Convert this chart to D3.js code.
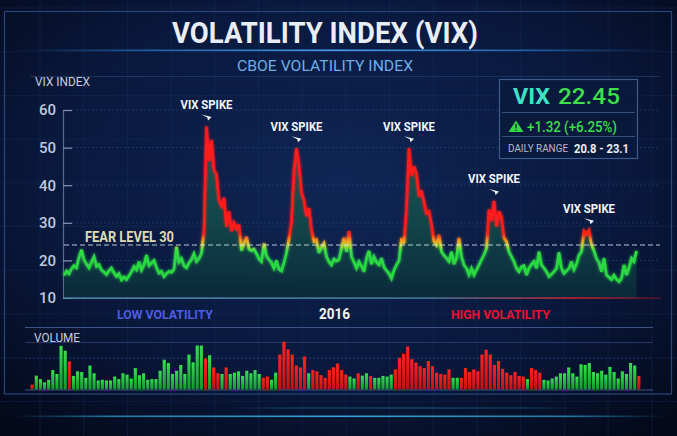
<!DOCTYPE html>
<html>
<head>
<meta charset="utf-8">
<script src="https://cdn.jsdelivr.net/npm/d3@7"></script>
<style>
  html, body { margin: 0; padding: 0; background: #081430; }
  svg { display: block; }
  text { font-family: Roboto, "Open Sans", "DejaVu Sans", sans-serif; }
</style>
</head>
<body>
<svg id="chart" width="677" height="436"></svg>
<script>
// VIX daily closes (left to right)
const vix = [
  16.0, 17.2, 16.4, 17.8, 18.6, 18.0, 20.8, 22.8, 20.2, 19.0, 18.0, 19.6,
  21.0, 18.4, 18.9, 17.4, 16.9, 16.2, 17.3, 18.0, 16.7, 15.7, 16.5, 14.8,
  15.6, 14.9, 15.9, 17.0, 18.4, 17.5, 19.7, 17.4, 18.8, 21.4, 18.6, 19.3,
  20.0, 18.1, 16.6, 17.1, 15.7, 16.5, 17.1, 16.8, 17.6, 23.6, 19.6, 20.5,
  18.6, 18.0, 19.3, 20.3, 21.8, 19.7, 20.5, 21.9, 28.0, 55.6, 46.5, 52.0,
  44.0, 42.8, 36.0, 34.5, 36.6, 29.0, 33.0, 27.8, 30.0, 28.4, 29.5, 22.6,
  24.6, 26.3, 23.0, 22.6, 23.0, 21.8, 20.4, 19.7, 24.5, 21.2, 20.2, 19.4,
  17.9, 20.0, 17.6, 17.2, 19.4, 22.1, 25.8, 30.3, 44.0, 49.8, 45.4, 38.0,
  36.0, 31.8, 33.9, 28.0, 25.0, 25.5, 22.0, 23.5, 24.6, 21.0, 19.6, 18.8,
  20.4, 19.8, 20.2, 23.2, 26.0, 22.3, 27.8, 21.0, 19.5, 17.9, 19.7, 18.5,
  17.0, 20.6, 22.5, 19.0, 21.0, 19.5, 18.8, 20.6, 18.2, 17.3, 16.5, 15.2,
  17.4, 18.8, 19.9, 25.9, 24.5, 33.9, 49.8, 42.5, 45.0, 43.0, 37.0, 38.5,
  35.5, 32.5, 33.0, 29.5, 25.0, 24.0, 26.8, 22.3, 21.3, 20.6, 19.7, 22.3,
  19.0, 20.5, 26.0, 21.0, 18.8, 17.9, 16.1, 17.9, 16.1, 17.5, 18.8, 20.2,
  21.5, 23.2, 33.5, 30.5, 35.8, 29.0, 33.0, 31.5, 26.0, 25.0, 22.3, 21.0,
  19.7, 17.9, 17.0, 18.3, 18.6, 16.1, 17.9, 19.0, 19.7, 17.9, 22.3, 18.8,
  18.0, 17.0, 15.7, 16.3, 17.0, 17.9, 22.1, 17.9, 16.5, 17.2, 17.9, 19.7,
  17.5, 19.0, 21.4, 22.3, 27.8, 27.0, 28.0, 24.2, 22.5, 20.5, 19.4, 17.0,
  20.6, 16.1, 15.5, 14.9, 16.1, 15.0, 14.3, 15.2, 18.8, 16.1, 18.0, 20.6,
  19.7, 22.5
];
const yTicks = [10, 20, 30, 40, 50, 60];
const spikeIdx = [57, 93, 138, 172, 210];
const spikeLabel = 'VIX SPIKE';
const fearLine = 24.1;
const fearLabel = 'FEAR LEVEL 30';

// volume bars and whether the bar is an "up" (red) day
const volume = [
  5, 14.3, 10.7, 7.3, 10, 20, 16, 45, 40, 29,
  14, 18.7, 18, 12, 24.7, 16.7, 9.3, 10, 9.3, 9.3,
  13.3, 10.7, 16.7, 15.3, 11.3, 22, 14.7, 16.7, 10, 10.7,
  10.7, 19.3, 30.7, 27.3, 16, 19.3, 25.3, 16, 36, 28,
  45.3, 45.3, 32, 35.3, 22.7, 16.7, 16, 22.7, 16, 17.3,
  18.7, 14, 19.3, 16.7, 20, 16, 12, 13.3, 10, 17.3,
  36, 49.3, 41.3, 36, 24.7, 22.7, 34, 16.7, 20, 18.7,
  14.7, 12, 20, 23, 26.7, 20, 15.3, 13.3, 11.3, 16.7,
  14.3, 16.7, 14, 12, 12, 14, 13.3, 15.3, 20.7, 32.7,
  36.7, 44.3, 31.3, 27.7, 24, 22, 29.3, 24, 17.3, 16,
  15.3, 20.7, 12, 12, 12, 22, 18, 20.7, 18.7, 36,
  41, 36, 25.3, 29.3, 21.3, 17.3, 14.7, 18, 14, 13.3,
  10.7, 22, 20, 17.3, 10, 9.3, 11.3, 13.3, 16.7, 16.7,
  22.7, 16.7, 13.3, 26, 25.3, 27.3, 18, 16.7, 19.3, 15.3,
  23.3, 18, 11.3, 18.7, 16, 27.3, 24.7, 14
];
const volumeUp = [
  1, 0, 0, 0, 0, 0, 0, 0, 0, 1,
  0, 0, 0, 0, 0, 0, 0, 0, 0, 0,
  0, 0, 0, 0, 0, 0, 0, 0, 0, 0,
  0, 0, 0, 0, 0, 0, 0, 0, 0, 0,
  0, 0, 1, 0, 1, 1, 0, 1, 0, 0,
  0, 0, 0, 0, 0, 0, 1, 1, 0, 0,
  1, 1, 1, 1, 1, 1, 1, 0, 1, 1,
  1, 1, 1, 1, 1, 1, 1, 0, 0, 1,
  0, 0, 1, 0, 0, 0, 0, 0, 1, 1,
  1, 1, 1, 1, 1, 1, 1, 1, 1, 1,
  1, 1, 0, 0, 1, 1, 1, 1, 1, 1,
  1, 1, 1, 1, 1, 1, 1, 1, 1, 1,
  0, 1, 1, 1, 0, 0, 0, 0, 0, 0,
  0, 0, 0, 0, 0, 0, 0, 0, 0, 0,
  0, 0, 0, 0, 0, 0, 0, 1
];

const lastValue = 22.45;
const change = 1.32;
const changePct = 6.25;
const rangeLow = 20.8;
const rangeHigh = 23.1;
const yearLabel = '2016';

const svg = d3.select('#chart');
const W = 677, H = 436;
const defs = svg.append('defs');

function linGrad(id, attrs, stops) {
  const g = defs.append('linearGradient').attr('id', id);
  Object.keys(attrs).forEach(function (k) { g.attr(k, attrs[k]); });
  stops.forEach(function (s) {
    g.append('stop').attr('offset', s[0]).attr('stop-color', s[1])
      .attr('stop-opacity', s[2] == null ? 1 : s[2]);
  });
  return g;
}

// scales
const x = d3.scaleLinear().domain([0, vix.length - 1]).range([64, 636.5]);
const y = d3.scaleLinear().domain([10, 60]).range([298, 110]);
const xv = d3.scaleBand().domain(d3.range(volume.length)).range([29.6, 641.4]).padding(0.24);
const yv = d3.scaleLinear().domain([0, 50]).range([389.5, 341]);

// background
const bg = defs.append('radialGradient').attr('id', 'bg')
  .attr('cx', '50%').attr('cy', '42%').attr('r', '72%');
bg.append('stop').attr('offset', 0).attr('stop-color', '#0f2656');
bg.append('stop').attr('offset', 0.6).attr('stop-color', '#09183c');
bg.append('stop').attr('offset', 1).attr('stop-color', '#040a1c');
svg.append('rect').attr('width', W).attr('height', H).attr('fill', 'url(#bg)');

// faint blueprint grid
const bgGrid = svg.append('g').attr('stroke', '#1a3468').attr('stroke-opacity', 0.35).attr('stroke-width', 1);
d3.range(40, W, 43.7).forEach(function (gx) {
  bgGrid.append('line').attr('x1', gx).attr('x2', gx).attr('y1', 0).attr('y2', H);
});
d3.range(8, H, 43.7).forEach(function (gy) {
  bgGrid.append('line').attr('x1', 0).attr('x2', W).attr('y1', gy).attr('y2', gy);
});

// outer frame
svg.append('rect').attr('x', 4.5).attr('y', 11.5).attr('width', 667).attr('height', 382.5)
  .attr('fill', 'none').attr('stroke', '#28467c').attr('stroke-width', 1.2);

// title
svg.append('text').attr('x', 325).attr('y', 43).attr('text-anchor', 'middle')
  .attr('font-size', 30).attr('font-weight', 700).attr('fill', '#e9edf5')
  .attr('textLength', 306).attr('lengthAdjust', 'spacingAndGlyphs')
  .text('VOLATILITY INDEX (VIX)');

linGrad('titleLine', { x1: 0, x2: 1, y1: 0, y2: 0 }, [
  [0, '#2a7ac8', 0], [0.2, '#2a7ac8', 0.7], [0.5, '#4aa0f0', 1], [0.8, '#2a7ac8', 0.7], [1, '#2a7ac8', 0]
]);
svg.append('rect').attr('x', 18).attr('y', 49.5).attr('width', 642).attr('height', 1.6).attr('fill', 'url(#titleLine)');

svg.append('text').attr('x', 325).attr('y', 70.5).attr('text-anchor', 'middle')
  .attr('font-size', 14).attr('fill', '#6eaee6')
  .attr('textLength', 176).attr('lengthAdjust', 'spacingAndGlyphs')
  .text('CBOE VOLATILITY INDEX');

svg.append('line').attr('x1', 30).attr('x2', 660).attr('y1', 76.5).attr('y2', 76.5)
  .attr('stroke', '#2a4678').attr('stroke-opacity', 0.6);

svg.append('text').attr('x', 35).attr('y', 86).attr('font-size', 13).attr('fill', '#c8cde0')
  .attr('textLength', 55).attr('lengthAdjust', 'spacingAndGlyphs').text('VIX INDEX');

// horizontal grid at ticks
svg.append('g').selectAll('line').data(yTicks.filter(function (t) { return t > 10; }))
  .join('line')
  .attr('x1', 72).attr('x2', 660)
  .attr('y1', function (d) { return y(d); }).attr('y2', function (d) { return y(d); })
  .attr('stroke', '#2a4a88').attr('stroke-opacity', 0.55).attr('stroke-dasharray', '2,2');

// y axis
const yAxis = d3.axisLeft(y).tickValues(yTicks).tickSize(-9).tickSizeOuter(0).tickPadding(7);
const ya = svg.append('g').attr('transform', 'translate(63,0)').call(yAxis);
ya.attr('font-family', 'Roboto, "Open Sans", sans-serif').attr('font-size', 15);
ya.select('.domain').attr('stroke', '#56698f').attr('stroke-width', 1.2);
ya.selectAll('.tick line').attr('stroke', '#8a98b8').attr('stroke-width', 1.2);
ya.selectAll('.tick text').attr('fill', '#c3c9db').attr('font-weight', 500);

// area + line
linGrad('areaGrad', { gradientUnits: 'userSpaceOnUse', x1: 0, x2: 0, y1: 110, y2: 298 }, [
  [0, '#1b6a5e', 0.9], [0.55, '#134c4c', 0.9], [1, '#0b2a3a', 0.9]
]);
const t0 = y(30), t1 = y(21);
function off(v) { return (y(v) - t0) / (t1 - t0); }
linGrad('lineGrad', { gradientUnits: 'userSpaceOnUse', x1: 0, x2: 0, y1: t0, y2: t1 }, [
  [0, '#ff1a1a'], [off(27), '#ff2418'], [off(25.5), '#ff8c1c'], [off(24), '#bcd834'],
  [off(22.6), '#36e046'], [1, '#2bd843']
]);

const glow = defs.append('filter').attr('id', 'glow').attr('x', '-10%').attr('y', '-10%')
  .attr('width', '120%').attr('height', '120%');
glow.append('feGaussianBlur').attr('stdDeviation', 1.8).attr('result', 'b');
const fm = glow.append('feMerge');
fm.append('feMergeNode').attr('in', 'b');
fm.append('feMergeNode').attr('in', 'SourceGraphic');

const area = d3.area().x(function (d, i) { return x(i); }).y0(y(10)).y1(function (d) { return y(d); });
const line = d3.line().x(function (d, i) { return x(i); }).y(function (d) { return y(d); });

svg.append('path').datum(vix).attr('d', area).attr('fill', 'url(#areaGrad)');
svg.append('path').datum(vix).attr('d', line).attr('fill', 'none')
  .attr('stroke', 'url(#lineGrad)').attr('stroke-width', 2.6)
  .attr('stroke-linejoin', 'miter').attr('stroke-miterlimit', 3).attr('filter', 'url(#glow)');

// chart baseline
linGrad('baseGrad', { x1: 0, x2: 1, y1: 0, y2: 0 }, [
  [0, '#4f86a8'], [0.6, '#3f7898'], [0.85, '#c02030'], [1, '#e01a2a', 0.3]
]);
svg.append('rect').attr('x', 63).attr('y', 297.3).attr('width', 598).attr('height', 1.6).attr('fill', 'url(#baseGrad)');

// fear line
svg.append('line').attr('x1', 64).attr('x2', 660).attr('y1', y(fearLine)).attr('y2', y(fearLine))
  .attr('stroke', '#dfe3ec').attr('stroke-opacity', 0.85).attr('stroke-width', 1.2)
  .attr('stroke-dasharray', '5,3');
svg.append('text').attr('x', 85).attr('y', y(fearLine) - 3).attr('font-size', 14).attr('font-weight', 700)
  .attr('fill', '#dedab2').attr('textLength', 89).attr('lengthAdjust', 'spacingAndGlyphs')
  .text(fearLabel);

// spike labels
const spikes = svg.append('g').selectAll('g').data(spikeIdx).join('g')
  .attr('transform', function (i) { return 'translate(' + x(i) + ',' + y(vix[i]) + ')'; });
spikes.append('text').attr('y', -17.5).attr('text-anchor', 'middle')
  .attr('font-size', 13).attr('font-weight', 700).attr('fill', '#f2f4f8')
  .attr('textLength', 52).attr('lengthAdjust', 'spacingAndGlyphs')
  .text(spikeLabel);
spikes.append('path').attr('d', 'M-5,-12 L5,-9.5 L1.5,-6 L0.8,-9 Z').attr('fill', '#f2f4f8');

// info box
const box = svg.append('g');
box.append('rect').attr('x', 499.5).attr('y', 79.5).attr('width', 138).attr('height', 79)
  .attr('fill', '#0a1a3c').attr('fill-opacity', 0.92).attr('stroke', '#3c5a8a').attr('stroke-width', 1.2);
box.append('line').attr('x1', 502).attr('x2', 635).attr('y1', 112.5).attr('y2', 112.5).attr('stroke', '#34507e');
box.append('line').attr('x1', 502).attr('x2', 635).attr('y1', 136.5).attr('y2', 136.5).attr('stroke', '#34507e');
box.append('text').attr('x', 513).attr('y', 103.5).attr('font-size', 22).attr('font-weight', 700)
  .attr('fill', '#3ee2c4').attr('textLength', 37).attr('lengthAdjust', 'spacingAndGlyphs').text('VIX');
box.append('text').attr('x', 558).attr('y', 103.5).attr('font-size', 22).attr('font-weight', 500)
  .attr('fill', '#3ede4c').attr('textLength', 62).attr('lengthAdjust', 'spacingAndGlyphs')
  .text(lastValue.toFixed(2));
box.append('path').attr('d', 'M516,120.5 L523.5,132 L508.5,132 Z').attr('fill', '#34d846');
box.append('text').attr('x', 516).attr('y', 131).attr('text-anchor', 'middle').attr('font-size', 9)
  .attr('font-weight', 700).attr('fill', '#0a1a3c').text('!');
box.append('text').attr('x', 527).attr('y', 131.5).attr('font-size', 14).attr('font-weight', 500)
  .attr('fill', '#3ede4c').attr('textLength', 90).attr('lengthAdjust', 'spacingAndGlyphs')
  .text('+' + change.toFixed(2) + ' (+' + changePct.toFixed(2) + '%)');
box.append('text').attr('x', 508).attr('y', 152).attr('font-size', 11).attr('fill', '#b4bccd')
  .attr('textLength', 60).attr('lengthAdjust', 'spacingAndGlyphs').text('DAILY RANGE');
box.append('text').attr('x', 574).attr('y', 152.5).attr('font-size', 13.5).attr('font-weight', 700)
  .attr('fill', '#eef0f5').attr('textLength', 55).attr('lengthAdjust', 'spacingAndGlyphs')
  .text(rangeLow.toFixed(1) + ' - ' + rangeHigh.toFixed(1));

// bottom labels
svg.append('text').attr('x', 117).attr('y', 319).attr('font-size', 13.5).attr('font-weight', 700)
  .attr('fill', '#4e5ce2').attr('textLength', 96).attr('lengthAdjust', 'spacingAndGlyphs').text('LOW VOLATILITY');
svg.append('text').attr('x', 319).attr('y', 319).attr('font-size', 14).attr('font-weight', 700)
  .attr('fill', '#f2f4f8').attr('textLength', 31).attr('lengthAdjust', 'spacingAndGlyphs').text(yearLabel);
svg.append('text').attr('x', 451).attr('y', 319).attr('font-size', 13.5).attr('font-weight', 700)
  .attr('fill', '#ea1230').attr('textLength', 99).attr('lengthAdjust', 'spacingAndGlyphs').text('HIGH VOLATILITY');

// volume panel
const vp = svg.append('g');
vp.append('line').attr('x1', 25).attr('x2', 653).attr('y1', 327.5).attr('y2', 327.5)
  .attr('stroke', '#3c5486').attr('stroke-width', 1.2);
vp.append('line').attr('x1', 25).attr('x2', 653).attr('y1', 342.5).attr('y2', 342.5)
  .attr('stroke', '#2c4476').attr('stroke-opacity', 0.8);
vp.append('line').attr('x1', 25).attr('x2', 653).attr('y1', 358.5).attr('y2', 358.5)
  .attr('stroke', '#2a4a88').attr('stroke-opacity', 0.5).attr('stroke-dasharray', '2,2');
vp.append('text').attr('x', 34).attr('y', 341.5).attr('font-size', 13).attr('fill', '#c8cde0')
  .attr('textLength', 46).attr('lengthAdjust', 'spacingAndGlyphs').text('VOLUME');

linGrad('volGreen', { x1: 0, x2: 0, y1: 0, y2: 1 }, [[0, '#36e050'], [1, '#14962e']]);
linGrad('volRed', { x1: 0, x2: 0, y1: 0, y2: 1 }, [[0, '#ff2222'], [1, '#c01212']]);

vp.append('g').selectAll('rect').data(volume).join('rect')
  .attr('x', function (d, i) { return xv(i); })
  .attr('width', xv.bandwidth())
  .attr('y', function (d) { return yv(d); })
  .attr('height', function (d) { return yv(0) - yv(d); })
  .attr('fill', function (d, i) { return volumeUp[i] ? 'url(#volRed)' : 'url(#volGreen)'; });

vp.append('line').attr('x1', 25).attr('x2', 653).attr('y1', 390).attr('y2', 390)
  .attr('stroke', '#3c5486').attr('stroke-width', 1.2);

// bottom glow lines
linGrad('cyanLine', { x1: 0, x2: 1, y1: 0, y2: 0 }, [
  [0, '#2aa8d8', 0], [0.15, '#2aa8d8', 0.7], [0.5, '#38b8e8', 0.9], [0.85, '#2aa8d8', 0.7], [1, '#2aa8d8', 0]
]);
svg.append('rect').attr('x', 15).attr('y', 415.5).attr('width', 650).attr('height', 1.6).attr('fill', 'url(#cyanLine)');
svg.append('rect').attr('x', 230).attr('y', 407.5).attr('width', 350).attr('height', 1).attr('fill', 'url(#cyanLine)').attr('opacity', 0.5);
</script>
</body>
</html>
